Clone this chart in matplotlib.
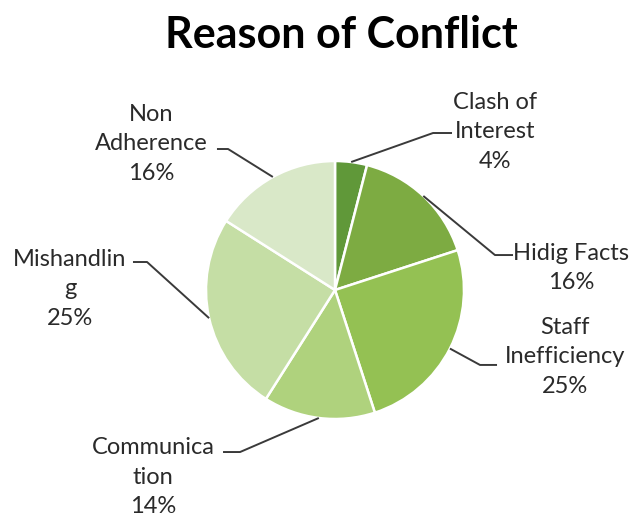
import numpy as np
import matplotlib
matplotlib.use("Agg")
import matplotlib.pyplot as plt

# ---- data ----
categories = ["Clash of\nInterest", "Hidig Facts", "Staff\nInefficiency",
              "Communica\ntion", "Mishandlin\ng", "Non\nAdherence"]
values = [4, 16, 25, 14, 25, 16]
title = "Reason of Conflict"

# ---- styles / layout ----
colors = ["#609839", "#7dab42", "#94c153", "#afd27d", "#c5dea5", "#d9e8c8"]
# label text centre, elbow and end of leader line (pie data units, radius 1)
text_pos = [(1.240, 1.225), (1.829, 0.171), (1.783, -0.519),
            (-1.411, -1.450), (-2.054, 0.008), (-1.426, 1.132)]
elbow_pos = [(0.760, 1.217), (1.240, 0.271), (1.124, -0.581),
             (-0.736, -1.256), (-1.457, 0.217), (-0.829, 1.093)]
end_pos = [(0.907, 1.217), (1.380, 0.271), (1.256, -0.581),
           (-0.868, -1.256), (-1.566, 0.217), (-0.915, 1.093)]

W, H = 635, 519
fig = plt.figure(figsize=(W / 100, H / 100), dpi=100)
fig.patch.set_facecolor("white")

cx, cy, r = 335, H - 290, 129
ax = fig.add_axes([(cx - r) / W, (cy - r) / H, 2 * r / W, 2 * r / H])

wedges, _ = ax.pie(values, colors=colors, startangle=90, counterclock=False,
                   radius=1, wedgeprops=dict(edgecolor="white", linewidth=1.8))
ax.set_xlim(-1, 1)
ax.set_ylim(-1, 1)
ax.set_aspect("equal")
ax.axis("off")

total = sum(values)
for w, lab, v, tp, ep, en in zip(wedges, categories, values, text_pos, elbow_pos, end_pos):
    mid = np.deg2rad((w.theta1 + w.theta2) / 2)
    sx, sy = np.cos(mid), np.sin(mid)
    ax.plot([sx, ep[0], en[0]], [sy, ep[1], en[1]], color="#3a3a3a",
            lw=1.4, clip_on=False, solid_capstyle="butt")
    pct = f"{v / total * 100:.0f}%"
    ax.text(tp[0], tp[1], f"{lab}\n{pct}", ha="center", va="center",
            fontsize=17, family="Lato", color="#2a2a2a",
            linespacing=1.5, clip_on=False)

fig.text(341 / W, 1 - 35 / H, title, ha="center", va="center",
         fontsize=31, fontweight="bold", family="Lato", color="black")

fig.savefig("out.png", dpi=100, facecolor="white")
